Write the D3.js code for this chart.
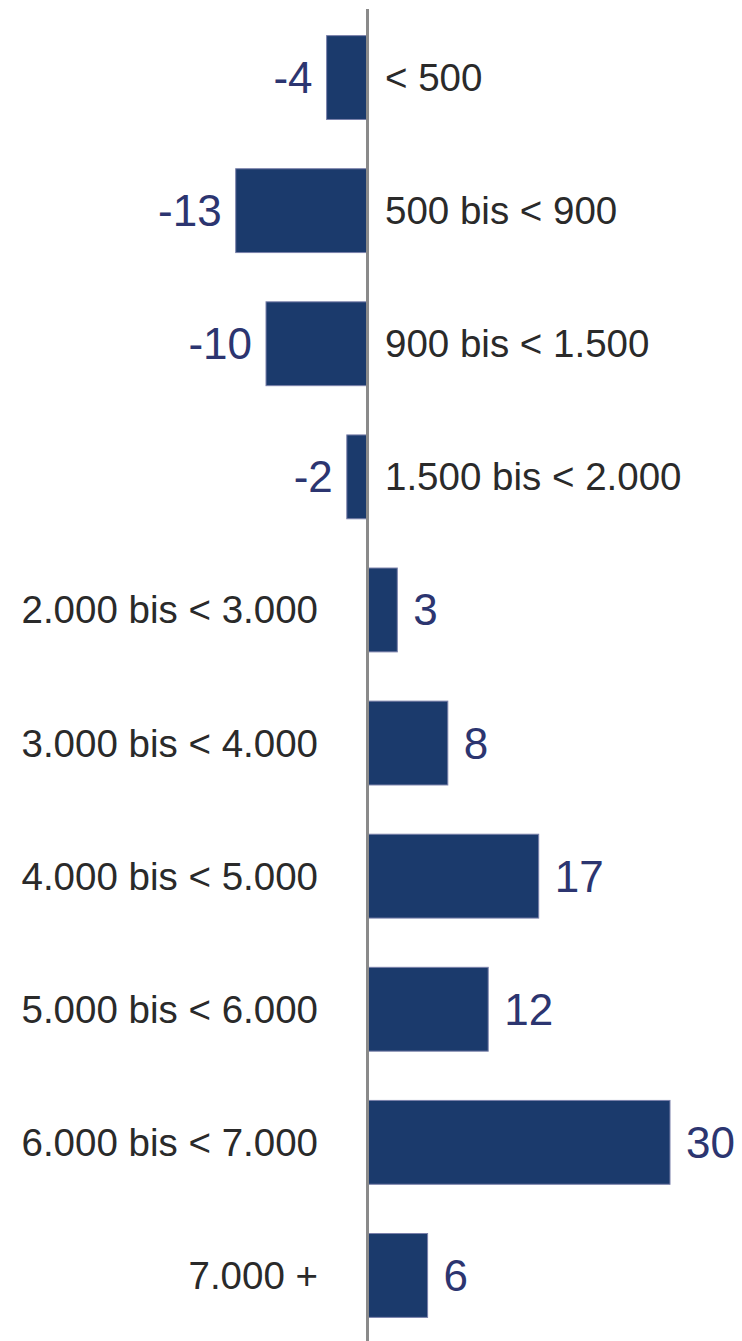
<!DOCTYPE html>
<html>
<head>
<meta charset="utf-8">
<script src="https://cdn.jsdelivr.net/npm/d3@7"></script>
<style>
  html, body { margin: 0; padding: 0; background: #ffffff; }
  svg { display: block; }
</style>
</head>
<body>
<script>
// Income brackets and their change values
const categories = [
  "< 500", "500 bis < 900", "900 bis < 1.500", "1.500 bis < 2.000",
  "2.000 bis < 3.000", "3.000 bis < 4.000", "4.000 bis < 5.000",
  "5.000 bis < 6.000", "6.000 bis < 7.000", "7.000 +"
];
const values = [-4, -13, -10, -2, 3, 8, 17, 12, 30, 6];
const valueLabels = ["-4", "-13", "-10", "-2", "3", "8", "17", "12", "30", "6"];

const W = 742, H = 1341;
const zeroX = 367, unit = 10.1;

const svg = d3.select("body").append("svg")
  .attr("width", W).attr("height", H);

const x = d3.scaleLinear()
  .domain([-13, 30])
  .range([zeroX - 13 * unit, zeroX + 30 * unit]);

const y = d3.scaleBand()
  .domain(categories)
  .range([9, 1344])
  .paddingInner(0.37)
  .paddingOuter(0.2);

const rows = categories.map((c, i) => ({ cat: c, v: values[i], label: valueLabels[i] }));

// bars
svg.append("g").selectAll("rect")
  .data(rows)
  .join("rect")
  .attr("x", d => d.v < 0 ? x(d.v) : x(0) + 1.5)
  .attr("y", d => y(d.cat))
  .attr("width", d => d.v < 0 ? x(0) - x(d.v) : x(d.v) - x(0) - 1.5)
  .attr("height", y.bandwidth())
  .attr("fill", "#1b3a6c")
  .attr("stroke", "#7a80aa")
  .attr("stroke-width", 1);

// category labels: on the opposite side of the bar
svg.append("g").selectAll("text")
  .data(rows)
  .join("text")
  .attr("x", d => d.v < 0 ? x(0) + 18 : x(0) - 49)
  .attr("y", d => y(d.cat) + y.bandwidth() / 2)
  .attr("text-anchor", d => d.v < 0 ? "start" : "end")
  .attr("dominant-baseline", "central")
  .attr("font-family", "'Liberation Sans', Arial, sans-serif")
  .attr("font-size", 38.5)
  .attr("fill", "#2a2a2a")
  .text(d => d.cat);

// value labels at bar ends
svg.append("g").selectAll("text")
  .data(rows)
  .join("text")
  .attr("x", d => d.v < 0 ? x(d.v) - 14 : x(d.v) + 16)
  .attr("y", d => y(d.cat) + y.bandwidth() / 2)
  .attr("text-anchor", d => d.v < 0 ? "end" : "start")
  .attr("dominant-baseline", "central")
  .attr("font-family", "'Liberation Sans', Arial, sans-serif")
  .attr("font-size", 44)
  .attr("fill", "#2c3570")
  .text(d => d.label);

// zero axis line
svg.append("line")
  .attr("x1", x(0) + 0.5).attr("x2", x(0) + 0.5)
  .attr("y1", 9).attr("y2", H)
  .attr("stroke", "#8a8a8a")
  .attr("stroke-width", 3);
</script>
</body>
</html>
